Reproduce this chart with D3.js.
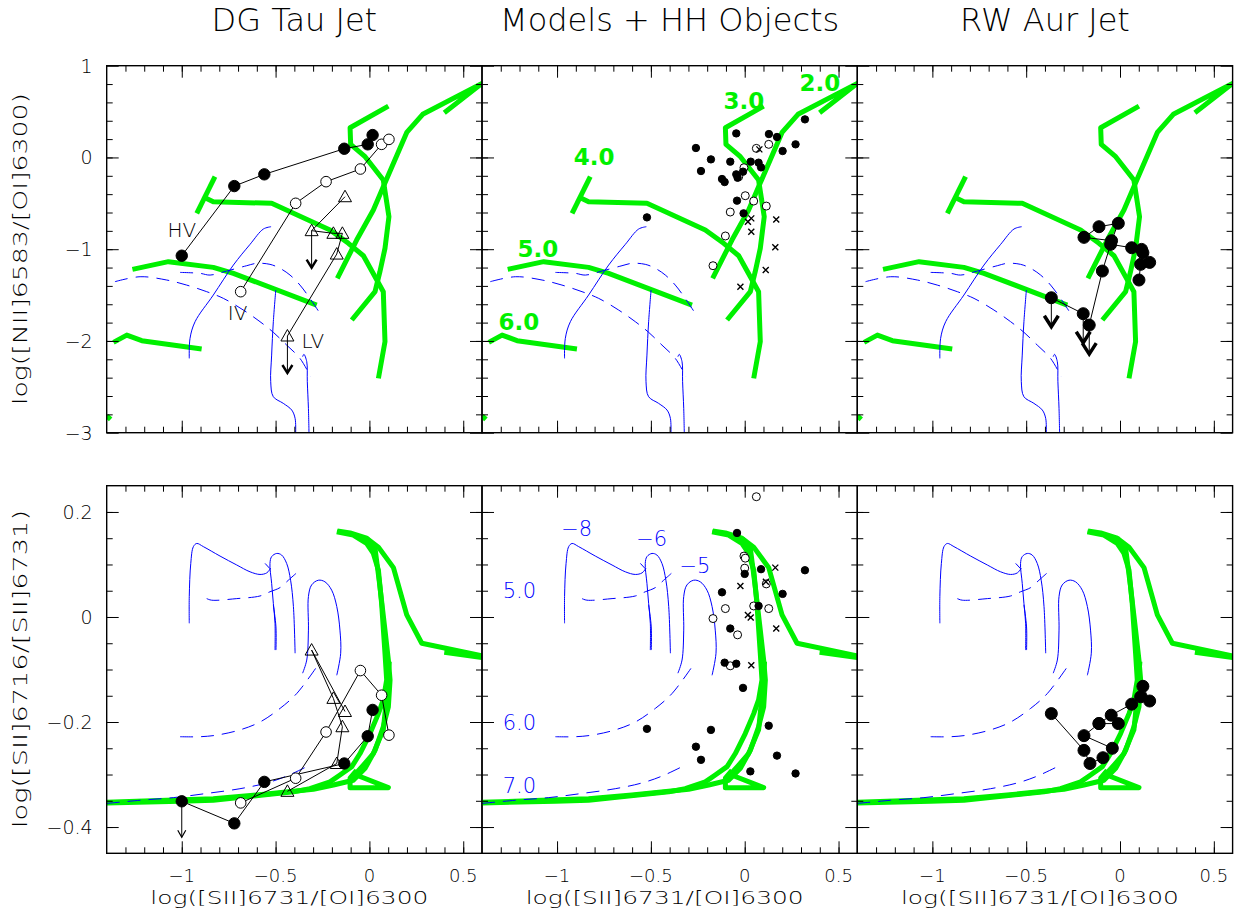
<!DOCTYPE html>
<html>
<head>
<meta charset="utf-8">
<script src="https://cdn.jsdelivr.net/npm/d3@7"></script>
<style>
  body { margin: 0; background: #fff; }
  svg { display: block; }
  text { font-family: "DejaVu Sans", sans-serif; font-weight: 200; }
</style>
</head>
<body>
<svg id="fig" width="1243" height="919"></svg>
<script>
// ---- data ----
const titles = ["DG Tau Jet", "Models + HH Objects", "RW Aur Jet"];
const xTicks = [-1, -0.5, 0, 0.5];
const nTicks = [1, 0, -1, -2, -3];
const sTicks = [0.2, 0, -0.2, -0.4];

// shock grid (green) in [NII]/[OI] vs [SII]/[OI]
const nGreen = [
  [[0.399,0.488],[0.6,0.807],[0.284,0.470],[0.199,0.273],[0.074,-0.319],[0.021,-0.573],[-0.068,-0.900],[-0.171,-1.318]],
  [[0.101,0.560],[-0.103,0.324],[-0.100,0.143],[-0.023,0.008],[0.074,-0.246],[0.104,-0.646],[0.083,-0.991],[0.056,-1.245],[0.030,-1.463],[-0.094,-1.772]],
  [[-0.823,-0.210],[-0.920,-0.609]],
  [[-0.876,-0.439],[-0.832,-0.482],[-0.521,-0.500],[-0.210,-0.791],[-0.112,-0.936],[-0.032,-1.071],[0.030,-1.300],[0.074,-1.463],[0.083,-2.008],[0.048,-2.408]],
  [[-1.263,-1.220],[-1.071,-1.136],[-0.832,-1.198],[-0.725,-1.263],[-0.281,-1.609]],
  [[-1.364,-2.015],[-1.293,-1.936],[-1.213,-1.997],[-0.894,-2.088]],
  [[-1.4,-2.815],[-1.379,-2.855]]
];
const nGreenLabels = [["2.0",0.401,0.811],["3.0",-0.004,0.615],["4.0",-0.803,0.005],["5.0",-1.102,-0.998],["6.0",-1.203,-1.793]];

// photoionisation tracks (blue)
const nBlue = [
  [[-0.960,-2.190],[-0.956,-1.972],[-0.929,-1.790],[-0.832,-1.500],[-0.725,-1.173],[-0.636,-0.947],[-0.565,-0.780],[-0.524,-0.755]],
  [[-0.499,-1.445],[-0.512,-1.790],[-0.521,-2.154],[-0.526,-2.444],[-0.512,-2.608],[-0.459,-2.680],[-0.414,-2.753],[-0.396,-2.844],[-0.393,-3.0]],
  [[-0.356,-2.172],[-0.349,-2.146],[-0.334,-2.226],[-0.331,-2.444],[-0.325,-2.735],[-0.322,-3.0]]
];
const nBlueDash = [
  [[-1.009,-1.253],[-0.903,-1.263],[-0.849,-1.282],[-0.761,-1.238],[-0.654,-1.180],[-0.601,-1.154],[-0.530,-1.165],[-0.476,-1.209],[-0.423,-1.282],[-0.370,-1.391],[-0.317,-1.536],[-0.267,-1.689]],
  [[-1.356,-1.354],[-1.222,-1.300],[-1.080,-1.336],[-0.974,-1.391],[-0.867,-1.463],[-0.778,-1.536],[-0.672,-1.663],[-0.583,-1.790],[-0.512,-1.906],[-0.441,-2.045],[-0.370,-2.190],[-0.313,-2.390]]
];

// same grids in [SII]6716/6731 vs [SII]/[OI]
const sGreen = [
  [[-0.171,0.164],[-0.103,0.160],[-0.015,0.150],[0.048,0.133],[0.128,0.094],[0.199,0.004],[0.279,-0.050],[0.6,-0.074]],
  [[0.399,-0.067],[0.6,-0.077]],
  [[-0.174,0.162],[-0.086,0.156],[-0.015,0.140],[0.021,0.121],[0.048,0.089],[0.065,0.026],[0.083,-0.069],[0.092,-0.120],[0.074,-0.158],[0.048,-0.184],[0.003,-0.222],[-0.050,-0.260],[-0.094,-0.285],[-0.157,-0.301],[-0.210,-0.314],[-0.317,-0.327],[-0.405,-0.333],[-0.619,-0.341],[-0.832,-0.349],[-1.009,-0.351],[-1.4,-0.354]],
  [[-0.015,0.150],[0.030,0.131],[0.056,0.058],[0.083,-0.025],[0.101,-0.082],[0.110,-0.120],[0.101,-0.171],[0.074,-0.209],[0.030,-0.254],[-0.023,-0.288],[-0.086,-0.311],[-0.192,-0.320],[-0.299,-0.328],[-0.405,-0.332],[-0.601,-0.339],[-0.832,-0.346],[-1.080,-0.349],[-1.4,-0.353]],
  [[0.106,-0.085],[0.088,-0.165],[0.074,-0.215],[0.021,-0.260],[-0.032,-0.282],[-0.077,-0.300],[0.101,-0.325],[-0.103,-0.325],[-0.103,-0.307],[-0.068,-0.292]]
];
const sBlue = [
  [[-0.960,-0.012],[-0.960,0.039],[-0.952,0.102],[-0.938,0.134],[-0.920,0.140],[-0.885,0.134],[-0.796,0.116],[-0.707,0.099],[-0.636,0.086],[-0.583,0.081],[-0.547,0.084],[-0.526,0.093]],
  [[-0.556,0.102],[-0.530,0.092]],
  [[-0.503,-0.063],[-0.503,-0.012],[-0.512,0.026],[-0.521,0.064],[-0.530,0.102],[-0.521,0.115],[-0.494,0.121],[-0.468,0.118],[-0.441,0.102],[-0.420,0.070],[-0.405,0.020],[-0.396,-0.069]],
  [[-0.512,0.023],[-0.498,-0.019],[-0.498,-0.063]],
  [[-0.356,-0.107],[-0.334,-0.082],[-0.325,-0.025],[-0.325,0.039],[-0.308,0.061],[-0.272,0.070],[-0.237,0.067],[-0.201,0.051],[-0.174,0.020],[-0.157,-0.025],[-0.153,-0.069],[-0.174,-0.111]]
];
const sBlueDash = [
  [[-0.867,0.035],[-0.841,0.032],[-0.707,0.035],[-0.583,0.040],[-0.530,0.048],[-0.476,0.056],[-0.432,0.070],[-0.391,0.083]],
  [[-1.009,-0.228],[-0.903,-0.228],[-0.814,-0.225],[-0.690,-0.215],[-0.583,-0.200],[-0.476,-0.174],[-0.388,-0.146],[-0.281,-0.095]],
  [[-1.4,-0.355],[-1.222,-0.349],[-1.045,-0.344],[-0.867,-0.336],[-0.690,-0.327],[-0.547,-0.316],[-0.441,-0.303],[-0.317,-0.282]]
];
const sBlueLabels = [["\u22128",-0.895,0.169],["\u22126",-0.496,0.150],["\u22125",-0.265,0.099],["5.0",-1.201,0.051],["6.0",-1.201,-0.200],["7.0",-1.201,-0.320]];

// DG Tau jet: HV, IV, LV (same [SII]/[OI] in both rows)
const dgHVx = [-1.000, -0.720, -0.560, -0.134, -0.009, 0.017];
const dgHVn = [-1.071, -0.312, -0.184, 0.095, 0.143, 0.244];
const dgHVs = [-0.351, -0.393, -0.314, -0.279, -0.227, -0.177];
const dgIVx = [-0.686, -0.393, -0.231, -0.048, 0.065, 0.104];
const dgIVn = [-1.463, -0.500, -0.264, -0.126, 0.143, 0.197];
const dgIVs = [-0.354, -0.307, -0.219, -0.102, -0.149, -0.225];
const dgLVx = [-0.130, -0.308, -0.192, -0.144, -0.174, -0.437];
const dgLVn = [-0.428, -0.798, -0.827, -0.827, -1.053, -1.946];
const dgLVs = [-0.180, -0.063, -0.155, -0.209, -0.279, -0.332];
const dgLVnLimit = [1, 5];
const dgHVsLimit = [0];
const dgLabels = [["HV",-1.0,-0.791],["IV",-0.702,-1.695],["LV",-0.301,-2.0]];

// HH objects: filled, open, crosses
const hhNfx = [-0.521,-0.260,-0.180,-0.233,-0.121,-0.107,-0.077,-0.045,-0.045,-0.038,0.032,0.074,0.087,-0.009,0.129,0.172,0.202,0.271,0.321,-0.041,-0.006];
const hhNfy = [-0.653,0.103,-0.021,-0.148,-0.235,-0.268,-0.046,0.262,-0.184,-0.221,-0.046,-0.057,-0.108,-0.155,0.255,0.223,0.070,0.143,0.415,-0.471,-0.609];
const hhNox = [0.062,0.128,-0.004,-0.032,0.003,0.048,0.115,-0.077,-0.103,-0.169];
const hhNoy = [0.099,0.143,-0.112,-0.210,-0.417,-0.475,-0.530,-0.595,-0.856,-1.180];
const hhNcx = [0.078,0.035,0.017,0.035,0.168,0.163,0.112,-0.023];
const hhNcy = [0.088,-0.664,-0.700,-0.809,-0.675,-0.980,-1.227,-1.409];
const hhSfx = [-0.041,0.087,0.000,-0.121,0.202,0.074,-0.077,-0.107,-0.045,-0.009,-0.521,-0.180,0.128,-0.260,-0.233,0.172,0.030,0.271,0.321];
const hhSfy = [0.160,0.091,0.082,0.047,0.044,0.021,-0.022,-0.087,-0.089,-0.135,-0.213,-0.215,-0.207,-0.247,-0.272,-0.264,-0.294,-0.298,0.089];
const hhSox = [0.062,-0.004,0.003,0.000,0.115,0.048,0.128,-0.103,-0.169,-0.038,-0.077];
const hhSoy = [0.229,0.116,0.112,0.093,0.063,0.021,0.016,0.016,-0.003,-0.034,-0.093];
const hhScx = [0.163,-0.023,0.113,0.017,0.032,0.168,0.035];
const hhScy = [0.094,0.059,0.067,0.004,-0.001,-0.022,-0.092];

// RW Aur jet
const rwNx = [-0.366,-0.196,-0.164,-0.094,-0.050,0.062,0.115,0.122,0.158,0.110,0.101];
const rwNy = [-1.529,-1.703,-1.827,-1.238,-0.947,-0.984,-1.002,-1.038,-1.144,-1.165,-1.336];
const rwN2x = [-0.045,-0.192,-0.112,-0.009];
const rwN2y = [-0.907,-0.871,-0.755,-0.718];
const rwNLimit = [0, 1, 2];
const rwSx = [-0.366,-0.192,-0.160,-0.091,-0.041,-0.192,-0.112,-0.047,0.062,0.110,0.122,0.158];
const rwSy = [-0.184,-0.254,-0.279,-0.268,-0.250,-0.226,-0.203,-0.187,-0.166,-0.152,-0.132,-0.160];
const rwS2x = [-0.112,-0.009];
const rwS2y = [-0.203,-0.203];

// ---- layout ----
const colX = [106.7, 482, 857.3];
const rowY = [65.7, 485.7];
const pw = 375.3;
const ph = [367, 367.6];
const green = "#00f000";
const blue = "#0000ff";

const x = d3.scaleLinear().domain([-1.4, 0.6]).range([0, pw]);
const yN = d3.scaleLinear().domain([-3, 1]).range([ph[0], 0]);
const yS = d3.scaleLinear().domain([-0.45, 0.25]).range([ph[1], 0]);

const svg = d3.select("#fig");
const defs = svg.append("defs");
const zip = (xs, ys) => xs.map((v, i) => [v, ys[i]]);
const fmt = (d) => String(d).replace("-", "\u2212");

const drawPanel = (col, row) => {
  const y = row ? yS : yN;
  const h = ph[row];
  const g = svg.append("g").attr("transform", `translate(${colX[col]},${rowY[row]})`);
  const id = `clip${col}${row}`;
  defs.append("clipPath").attr("id", id).append("rect").attr("width", pw).attr("height", h);
  const plot = g.append("g").attr("clip-path", `url(#${id})`);

  const line = d3.line().x((d) => x(d[0])).y((d) => y(d[1]));
  const smooth = d3.line().x((d) => x(d[0])).y((d) => y(d[1])).curve(d3.curveCatmullRom);

  plot.append("g").selectAll("path").data(row ? sGreen : nGreen).enter().append("path")
    .attr("d", line).attr("fill", "none").attr("stroke", green)
    .attr("stroke-width", 5).attr("stroke-linejoin", "round");
  plot.append("g").selectAll("path").data(row ? sBlue : nBlue).enter().append("path")
    .attr("d", smooth).attr("fill", "none").attr("stroke", blue).attr("stroke-width", 1);
  plot.append("g").selectAll("path").data(row ? sBlueDash : nBlueDash).enter().append("path")
    .attr("d", smooth).attr("fill", "none").attr("stroke", blue).attr("stroke-width", 1)
    .attr("stroke-dasharray", "13,8");

  // frame and inward ticks
  const minorX = d3.range(-13, 6).map((v) => v / 10);
  const minorY = row ? d3.range(-8, 5).map((v) => v / 20) : d3.range(-14, 5).map((v) => v / 5);
  const majorY = row ? sTicks : nTicks;
  const ax = [
    [d3.axisBottom(x).tickValues(minorX).tickSize(-6), `translate(0,${h})`],
    [d3.axisBottom(x).tickValues(xTicks).tickSize(-12), `translate(0,${h})`],
    [d3.axisTop(x).tickValues(minorX).tickSize(-6), null],
    [d3.axisTop(x).tickValues(xTicks).tickSize(-12), null],
    [d3.axisLeft(y).tickValues(minorY).tickSize(-6), null],
    [d3.axisLeft(y).tickValues(majorY).tickSize(-12), null],
    [d3.axisRight(y).tickValues(minorY).tickSize(-6), `translate(${pw},0)`],
    [d3.axisRight(y).tickValues(majorY).tickSize(-12), `translate(${pw},0)`]
  ];
  ax.forEach(([a, t]) => {
    const ag = g.append("g").call(a.tickFormat(""));
    if (t) ag.attr("transform", t);
    ag.select(".domain").remove();
    ag.selectAll("text").remove();
    ag.selectAll("line").attr("stroke", "#000").attr("stroke-width", 1);
  });
  g.append("rect").attr("width", pw).attr("height", h)
    .attr("fill", "none").attr("stroke", "#000").attr("stroke-width", 1.4);

  if (col === 0) {
    g.append("g").selectAll("text").data(majorY).enter().append("text")
      .attr("x", -14).attr("y", (d) => y(d) + 7).attr("text-anchor", "end")
      .attr("font-size", 19).text(fmt);
  }
  if (row === 1) {
    g.append("g").selectAll("text").data(xTicks).enter().append("text")
      .attr("x", (d) => x(d)).attr("y", h + 29).attr("text-anchor", "middle")
      .attr("font-size", 18).text(fmt);
    g.append("text").attr("x", pw / 2 - 5).attr("y", h + 51).attr("text-anchor", "middle")
      .attr("font-size", 18).attr("textLength", 278).attr("lengthAdjust", "spacingAndGlyphs")
      .text("log([SII]6731/[OI]6300");
  } else {
    g.append("text").attr("x", pw / 2).attr("y", 31 - rowY[0]).attr("text-anchor", "middle")
      .attr("font-size", 32).text(titles[col]);
  }
  return { g, plot, y };
};

const connect = (plot, pts, y, w) =>
  plot.append("path").attr("d", d3.line().x((d) => x(d[0])).y((d) => y(d[1]))(pts))
    .attr("fill", "none").attr("stroke", "#000").attr("stroke-width", w || 1);

const dots = (plot, pts, y, r, filled) =>
  plot.append("g").selectAll("circle").data(pts).enter().append("circle")
    .attr("cx", (d) => x(d[0])).attr("cy", (d) => y(d[1])).attr("r", r)
    .attr("fill", filled ? "#000" : "#fff").attr("stroke", "#000").attr("stroke-width", 1);

const triangles = (plot, pts, y) =>
  plot.append("g").selectAll("path").data(pts).enter().append("path")
    .attr("transform", (d) => `translate(${x(d[0])},${y(d[1])})`)
    .attr("d", "M0,-6.5L6.5,5L-6.5,5Z").attr("fill", "none").attr("stroke", "#000").attr("stroke-width", 1);

const crosses = (plot, pts, y) =>
  plot.append("g").selectAll("path").data(pts).enter().append("path")
    .attr("transform", (d) => `translate(${x(d[0])},${y(d[1])})`)
    .attr("d", "M-3,-3L3,3M-3,3L3,-3").attr("stroke", "#000").attr("stroke-width", 1.4);

const arrows = (plot, pts, y, len, hw, hh, sw) => {
  const a = plot.append("g").selectAll("g").data(pts).enter().append("g")
    .attr("transform", (d) => `translate(${x(d[0])},${y(d[1])})`);
  a.append("line").attr("y2", len).attr("stroke", "#000").attr("stroke-width", 1);
  a.append("path").attr("d", `M${-hw},${len - hh}L0,${len}L${hw},${len - hh}`)
    .attr("fill", "none").attr("stroke", "#000").attr("stroke-width", sw);
};

const panelText = (plot, labels, y, size, color, weight) =>
  plot.append("g").selectAll("text").data(labels).enter().append("text")
    .attr("x", (d) => x(d[1])).attr("y", (d) => y(d[2]) + size * 0.36)
    .attr("text-anchor", "middle").attr("font-size", size)
    .attr("fill", color).style("font-weight", weight).text((d) => d[0]);

// ---- DG Tau ----
[0, 1].forEach((row) => {
  const { plot, y } = drawPanel(0, row);
  const hv = zip(dgHVx, row ? dgHVs : dgHVn);
  const iv = zip(dgIVx, row ? dgIVs : dgIVn);
  const lv = zip(dgLVx, row ? dgLVs : dgLVn);
  connect(plot, hv, y); connect(plot, iv, y); connect(plot, lv, y);
  if (row) {
    arrows(plot, dgHVsLimit.map((i) => hv[i]), y, 36, 4, 7, 1.2);
  } else {
    arrows(plot, dgLVnLimit.map((i) => lv[i]), y, 37, 5, 8, 2.4);
    panelText(plot, dgLabels, y, 20, "#000", 300);
  }
  dots(plot, hv, y, 5.7, true);
  dots(plot, iv, y, 5.3, false);
  triangles(plot, lv, y);
});

// ---- Models + HH objects ----
[0, 1].forEach((row) => {
  const { plot, y } = drawPanel(1, row);
  dots(plot, zip(row ? hhSox : hhNox, row ? hhSoy : hhNoy), y, 4, false);
  dots(plot, zip(row ? hhSfx : hhNfx, row ? hhSfy : hhNfy), y, 3.7, true);
  crosses(plot, zip(row ? hhScx : hhNcx, row ? hhScy : hhNcy), y);
  if (row) panelText(plot, sBlueLabels, y, 21, blue, 200);
  else panelText(plot, nGreenLabels, y, 23, green, 700);
});

// ---- RW Aur ----
[0, 1].forEach((row) => {
  const { plot, y } = drawPanel(2, row);
  const a = zip(row ? rwSx : rwNx, row ? rwSy : rwNy);
  const b = zip(row ? rwS2x : rwN2x, row ? rwS2y : rwN2y);
  connect(plot, a, y);
  connect(plot, row ? b : b.concat([b[0]]), y);
  if (!row) arrows(plot, rwNLimit.map((i) => a[i]), y, 29, 7, 11, 3.5);
  dots(plot, a.concat(b), y, 6, true);
});

// y axis titles
svg.append("text").attr("transform", "translate(27,249) rotate(-90)").attr("text-anchor", "middle")
  .attr("font-size", 19).attr("textLength", 312).attr("lengthAdjust", "spacingAndGlyphs")
  .text("log([NII]6583/[OI]6300)");
svg.append("text").attr("transform", "translate(27,669) rotate(-90)").attr("text-anchor", "middle")
  .attr("font-size", 19).attr("textLength", 318).attr("lengthAdjust", "spacingAndGlyphs")
  .text("log([SII]6716/[SII]6731)");
</script>
</body>
</html>
